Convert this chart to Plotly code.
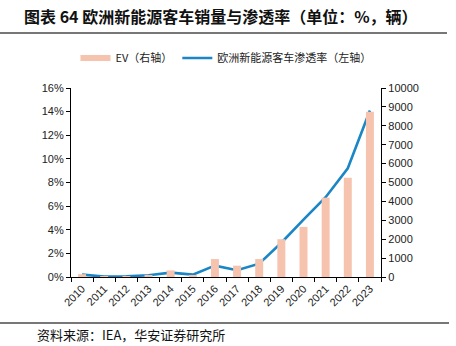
import plotly.graph_objects as go

years = ["2010", "2011", "2012", "2013", "2014", "2015", "2016", "2017",
         "2018", "2019", "2020", "2021", "2022", "2023"]
ev_sales = [150, 20, 30, 60, 350, 100, 950, 600, 950, 2000, 2650, 4200, 5250, 8750]
penetration = [0.2, 0.03, 0.05, 0.15, 0.37, 0.2, 0.96, 0.57, 1.13, 2.9, 4.85, 6.75, 9.2, 14.1]
left_ticks = [0, 2, 4, 6, 8, 10, 12, 14, 16]
right_ticks = [0, 1000, 2000, 3000, 4000, 5000, 6000, 7000, 8000, 9000, 10000]

W, H = 456, 346
L, R, T, B = 71, 75, 88, 69
pw, ph = W - L - R, H - T - B

def px(x):
    return (x - L) / pw

def py(y):
    return (H - B - y) / ph

BAR_COLOR = "#F5C3AE"
LINE_COLOR = "#1A86C5"

fig = go.Figure()
fig.add_trace(go.Bar(
    x=years, y=ev_sales, name="EV（右轴）", yaxis="y2", showlegend=False,
    marker=dict(color=BAR_COLOR, line=dict(width=0)), width=0.36,
))
# legend-only entry so the bar swatch is a wide flat bar like the reference
fig.add_trace(go.Scatter(
    x=[None], y=[None], name="EV（右轴）", yaxis="y2", mode="lines",
    line=dict(color=BAR_COLOR, width=6),
))
fig.add_trace(go.Scatter(
    x=years, y=penetration, name="欧洲新能源客车渗透率（左轴）", yaxis="y",
    mode="lines", line=dict(color=LINE_COLOR, width=2.6),
))

axis_font = dict(family="Liberation Sans, Arial, sans-serif", size=11, color="#222")
fig.update_layout(
    width=W, height=H,
    margin=dict(l=L, r=R, t=T, b=B),
    paper_bgcolor="white", plot_bgcolor="white",
    showlegend=True,
    legend=dict(orientation="h", x=0.5, xanchor="center", y=1 + 30 / ph, yanchor="middle",
                font=dict(family="Noto Sans CJK SC", size=11, color="#222"),
                traceorder="normal", tracegroupgap=0),
    xaxis=dict(type="category", tickangle=-45, tickfont=axis_font,
               showline=True, linecolor="black", linewidth=1.2,
               ticks="outside", ticklen=4, tickcolor="black", tickson="boundaries",
               showgrid=False, zeroline=False),
    yaxis=dict(range=[0, 16], tickvals=left_ticks, ticktext=[f"{v}%" for v in left_ticks],
               tickfont=axis_font, showline=True, linecolor="black", linewidth=1.2,
               ticks="outside", ticklen=4, tickcolor="black", showgrid=False, zeroline=False),
    yaxis2=dict(range=[0, 10000], tickvals=right_ticks, ticktext=[str(v) for v in right_ticks],
                overlaying="y", side="right",
                tickfont=axis_font, showline=True, linecolor="black", linewidth=1.2,
                ticks="outside", ticklen=4, tickcolor="black", showgrid=False, zeroline=False),
)

fig.add_annotation(text="<b>图表 64 欧洲新能源客车销量与渗透率（单位：%，辆）</b>",
                   xref="paper", yref="paper", x=px(22), y=py(16), xanchor="left", yanchor="middle",
                   showarrow=False, font=dict(family="Noto Sans CJK SC", size=16, color="#111"))
fig.add_annotation(text="资料来源：IEA，华安证券研究所",
                   xref="paper", yref="paper", x=px(35), y=py(334), xanchor="left", yanchor="middle",
                   showarrow=False, font=dict(family="Noto Sans CJK SC", size=13, color="#111"))
fig.add_shape(type="line", xref="paper", yref="paper", x0=px(0), x1=px(447), y0=py(33), y1=py(33),
              line=dict(color="#777", width=2))
fig.add_shape(type="line", xref="paper", yref="paper", x0=px(0), x1=px(449), y0=py(323), y1=py(323),
              line=dict(color="#777", width=2))

fig.write_html("out.html")
